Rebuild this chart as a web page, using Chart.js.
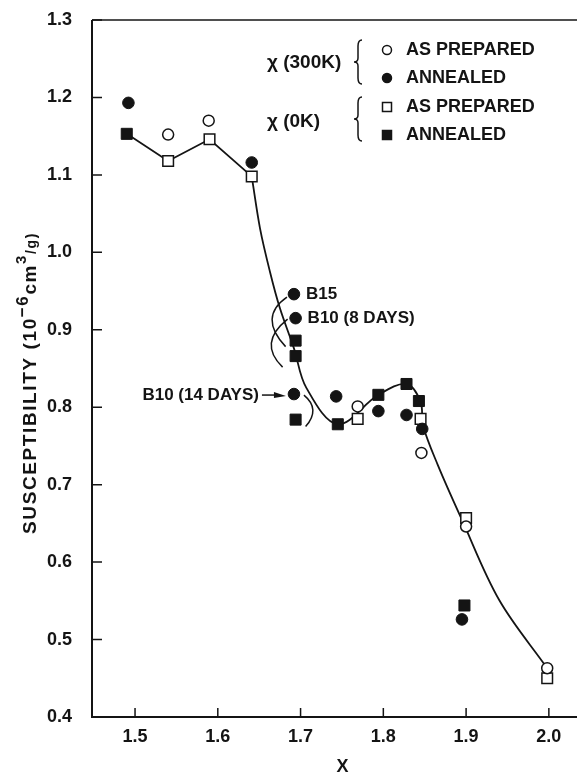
<!DOCTYPE html>
<html>
<head>
<meta charset="utf-8">
<script src="https://cdn.jsdelivr.net/npm/chart.js@4"></script>
<style>
  html, body { margin: 0; padding: 0; background: #fff; overflow: hidden; }
  #wrap { width: 577px; height: 775px; }
</style>
</head>
<body>
<div id="wrap"><canvas id="suscChart"></canvas></div>
<script>
// chi(300K), as prepared (open circles)
const prep300X = [1.540, 1.589, 1.769, 1.846, 1.900, 1.998];
const prep300Y = [1.152, 1.170, 0.801, 0.741, 0.646, 0.463];
// chi(300K), annealed (filled circles)
const ann300X = [1.492, 1.641, 1.692, 1.694, 1.692, 1.743, 1.794, 1.828, 1.847, 1.895];
const ann300Y = [1.193, 1.116, 0.946, 0.915, 0.817, 0.814, 0.795, 0.790, 0.772, 0.526];
// chi(0K), as prepared (open squares)
const prep0X = [1.540, 1.590, 1.641, 1.769, 1.845, 1.900, 1.998];
const prep0Y = [1.118, 1.146, 1.098, 0.785, 0.785, 0.657, 0.450];
// chi(0K), annealed (filled squares)
const ann0X = [1.490, 1.694, 1.694, 1.694, 1.745, 1.794, 1.828, 1.843, 1.898];
const ann0Y = [1.153, 0.886, 0.866, 0.784, 0.778, 0.816, 0.830, 0.808, 0.544];

// guide curve: straight from 1.49 to 1.64, smooth after that
const kinkX = [1.490, 1.540, 1.590, 1.641];
const kinkY = [1.153, 1.118, 1.146, 1.098];
const fitX = [1.641, 1.651, 1.663, 1.675, 1.692, 1.707, 1.745, 1.794, 1.828, 1.845, 1.848, 1.866, 1.894, 1.940, 1.998];
const fitY = [1.098, 1.031, 0.975, 0.928, 0.876, 0.825, 0.778, 0.816, 0.830, 0.807, 0.776, 0.725, 0.657, 0.551, 0.463];

const xTicks = [1.5, 1.6, 1.7, 1.8, 1.9, 2.0];
const yTicks = [0.4, 0.5, 0.6, 0.7, 0.8, 0.9, 1.0, 1.1, 1.2, 1.3];

const ink = "#141414";
const FONT = '"Liberation Sans", Arial, sans-serif';

const pts = (xs, ys) => xs.map((x, i) => ({ x: x, y: ys[i] }));

// frame, inward ticks, titles, legend and sample notes
const decor = {
    id: "decor",
    afterDraw(chart) {
        const { ctx, chartArea: a, scales: { x, y } } = chart;
        ctx.save();
        ctx.strokeStyle = ink;
        ctx.fillStyle = ink;

        ctx.lineWidth = 1.5;
        ctx.beginPath();
        ctx.moveTo(a.right, a.top);
        ctx.lineTo(a.left, a.top);
        ctx.stroke();
        ctx.lineWidth = 2;
        ctx.beginPath();
        ctx.moveTo(a.left, a.top);
        ctx.lineTo(a.left, a.bottom);
        ctx.lineTo(a.right, a.bottom);
        ctx.stroke();

        ctx.lineWidth = 1.5;
        ctx.beginPath();
        xTicks.forEach(v => {
            const px = x.getPixelForValue(v);
            ctx.moveTo(px, a.bottom);
            ctx.lineTo(px, a.bottom - 9);
        });
        yTicks.forEach(v => {
            const py = y.getPixelForValue(v);
            ctx.moveTo(a.left, py);
            ctx.lineTo(a.left + 10, py);
        });
        ctx.stroke();

        // x title
        ctx.font = "bold 18px " + FONT;
        ctx.textAlign = "center";
        ctx.textBaseline = "middle";
        ctx.fillText("X", (a.left + a.right) / 2 + 8, 767);

        // y title with superscripts
        const parts = [
            { t: "SUSCEPTIBILITY (10", f: "bold 19px ", dy: 0 },
            { t: "\u22126", f: "bold 17px ", dy: -8 },
            { t: "cm", f: "bold 19px ", dy: 0 },
            { t: "3", f: "bold 15px ", dy: -9 },
            { t: "/g)", f: "bold 14px ", dy: 1 }
        ];
        ctx.letterSpacing = "1.6px";
        let total = 0;
        parts.forEach(p => { ctx.font = p.f + FONT; p.w = ctx.measureText(p.t).width; total += p.w; });
        ctx.save();
        ctx.translate(31, 383);
        ctx.rotate(-Math.PI / 2);
        ctx.textAlign = "left";
        let cx = -total / 2;
        parts.forEach(p => {
            ctx.font = p.f + FONT;
            ctx.fillText(p.t, cx, p.dy);
            cx += p.w;
        });
        ctx.restore();
        ctx.letterSpacing = "0px";

        // legend
        const brace = (x0, yT, yB) => {
            const yM = (yT + yB) / 2;
            ctx.beginPath();
            ctx.moveTo(x0 + 4, yT);
            ctx.quadraticCurveTo(x0, yT, x0, yT + 6);
            ctx.lineTo(x0, yM - 4);
            ctx.quadraticCurveTo(x0, yM, x0 - 4, yM);
            ctx.quadraticCurveTo(x0, yM, x0, yM + 4);
            ctx.lineTo(x0, yB - 6);
            ctx.quadraticCurveTo(x0, yB, x0 + 4, yB);
            ctx.stroke();
        };
        const marker = (kind, filled, mx, my) => {
            ctx.beginPath();
            if (kind === "circle") ctx.arc(mx, my, 4.5, 0, Math.PI * 2);
            else ctx.rect(mx - 4.5, my - 4.5, 9, 9);
            ctx.fillStyle = filled ? ink : "#fff";
            ctx.fill();
            ctx.stroke();
            ctx.fillStyle = ink;
        };
        ctx.lineWidth = 1.5;
        ctx.textAlign = "left";
        ctx.font = "bold 19px " + FONT;
        ctx.fillText("\u03C7 (300K)", 267, 63);
        ctx.fillText("\u03C7 (0K)", 267, 122);
        ctx.font = "bold 18px " + FONT;
        brace(358, 40, 84);
        brace(358, 97, 141);
        marker("circle", false, 387, 50);
        marker("circle", true, 387, 78);
        marker("rect", false, 387, 107);
        marker("rect", true, 387, 135);
        ctx.fillText("AS PREPARED", 406, 50);
        ctx.fillText("ANNEALED", 406, 78);
        ctx.fillText("AS PREPARED", 406, 107);
        ctx.fillText("ANNEALED", 406, 135);

        // sample notes at x = 1.69
        const p = (xs, ys, i) => ({ x: x.getPixelForValue(xs[i]), y: y.getPixelForValue(ys[i]) });
        const b15 = p(ann300X, ann300Y, 2);
        const b10a = p(ann300X, ann300Y, 3);
        const b10b = p(ann300X, ann300Y, 4);
        const sq1 = p(ann0X, ann0Y, 1);
        const sq2 = p(ann0X, ann0Y, 2);
        const sq3 = p(ann0X, ann0Y, 3);

        ctx.font = "bold 17px " + FONT;
        ctx.textBaseline = "middle";
        ctx.fillText("B15", b15.x + 12, b15.y);
        ctx.fillText("B10 (8 DAYS)", b10a.x + 12, b10a.y);
        ctx.textAlign = "right";
        ctx.fillText("B10 (14 DAYS)", b10b.x - 35, b10b.y + 1);

        ctx.lineWidth = 1.5;
        ctx.beginPath();
        ctx.moveTo(b10b.x - 32, b10b.y + 1);
        ctx.lineTo(b10b.x - 14, b10b.y + 1);
        ctx.stroke();
        ctx.beginPath();
        ctx.moveTo(b10b.x - 8, b10b.y + 2);
        ctx.lineTo(b10b.x - 20, b10b.y - 2);
        ctx.lineTo(b10b.x - 20, b10b.y + 4);
        ctx.closePath();
        ctx.fill();

        const arc = (sx, sy, cxp, cyp, ex, ey) => {
            ctx.beginPath();
            ctx.moveTo(sx, sy);
            ctx.quadraticCurveTo(cxp, cyp, ex, ey);
            ctx.stroke();
        };
        arc(b15.x - 7, b15.y + 3, b15.x - 36, b15.y + 23, sq1.x - 10, sq1.y + 6);
        arc(b10a.x - 8, b10a.y + 1, b10a.x - 38, b10a.y + 25, sq2.x - 13, sq2.y + 11);
        arc(b10b.x + 10, b10b.y + 1, b10b.x + 27, b10b.y + 15, sq3.x + 10, sq3.y + 7);
        ctx.restore();
    }
};

const canvas = document.getElementById("suscChart");

new Chart(canvas.getContext("2d"), {
    type: "scatter",
    data: {
        datasets: [
            {
                label: "chi 300K as prepared",
                data: pts(prep300X, prep300Y),
                pointStyle: "circle", pointRadius: 5.5,
                backgroundColor: "#fff", borderColor: ink, borderWidth: 1.5, order: 0
            },
            {
                label: "chi 300K annealed",
                data: pts(ann300X, ann300Y),
                pointStyle: "circle", pointRadius: 5.8,
                backgroundColor: ink, borderColor: ink, borderWidth: 1, order: 0
            },
            {
                label: "chi 0K as prepared",
                data: pts(prep0X, prep0Y),
                pointStyle: "rect", pointRadius: 7.5,
                backgroundColor: "#fff", borderColor: ink, borderWidth: 1.5, order: 0
            },
            {
                label: "chi 0K annealed",
                data: pts(ann0X, ann0Y),
                pointStyle: "rect", pointRadius: 7.8,
                backgroundColor: ink, borderColor: ink, borderWidth: 1, order: 0
            },
            {
                label: "guide",
                data: pts(kinkX, kinkY),
                showLine: true, pointRadius: 0, tension: 0,
                borderColor: ink, borderWidth: 1.8, order: 5
            },
            {
                label: "fit",
                data: pts(fitX, fitY),
                showLine: true, pointRadius: 0, tension: 0.35,
                borderColor: ink, borderWidth: 1.8, order: 5
            }
        ]
    },
    options: {
        responsive: true,
        maintainAspectRatio: false,
        animation: false,
        layout: { autoPadding: false, padding: { top: 20, right: 0, left: 0, bottom: 0 } },
        plugins: { legend: { display: false }, tooltip: { enabled: false } },
        scales: {
            x: {
                type: "linear",
                min: 1.448,
                max: 2.034,
                grid: { display: false, drawTicks: false },
                border: { display: false },
                afterBuildTicks: s => { s.ticks = xTicks.map(v => ({ value: v })); },
                afterFit: s => { s.height = 58; s.paddingLeft = 0; s.paddingRight = 0; },
                ticks: {
                    padding: 9,
                    color: ink,
                    font: { family: FONT, size: 18, weight: "bold" },
                    callback: v => v.toFixed(1)
                }
            },
            y: {
                type: "linear",
                min: 0.4,
                max: 1.3,
                grid: { display: false, drawTicks: false },
                border: { display: false },
                afterBuildTicks: s => { s.ticks = yTicks.map(v => ({ value: v })); },
                afterFit: s => { s.width = 92; s.paddingTop = 0; s.paddingBottom = 0; },
                ticks: {
                    padding: 20,
                    color: ink,
                    font: { family: FONT, size: 18, weight: "bold" },
                    callback: v => v.toFixed(1)
                }
            }
        }
    },
    plugins: [decor]
});
</script>
</body>
</html>
